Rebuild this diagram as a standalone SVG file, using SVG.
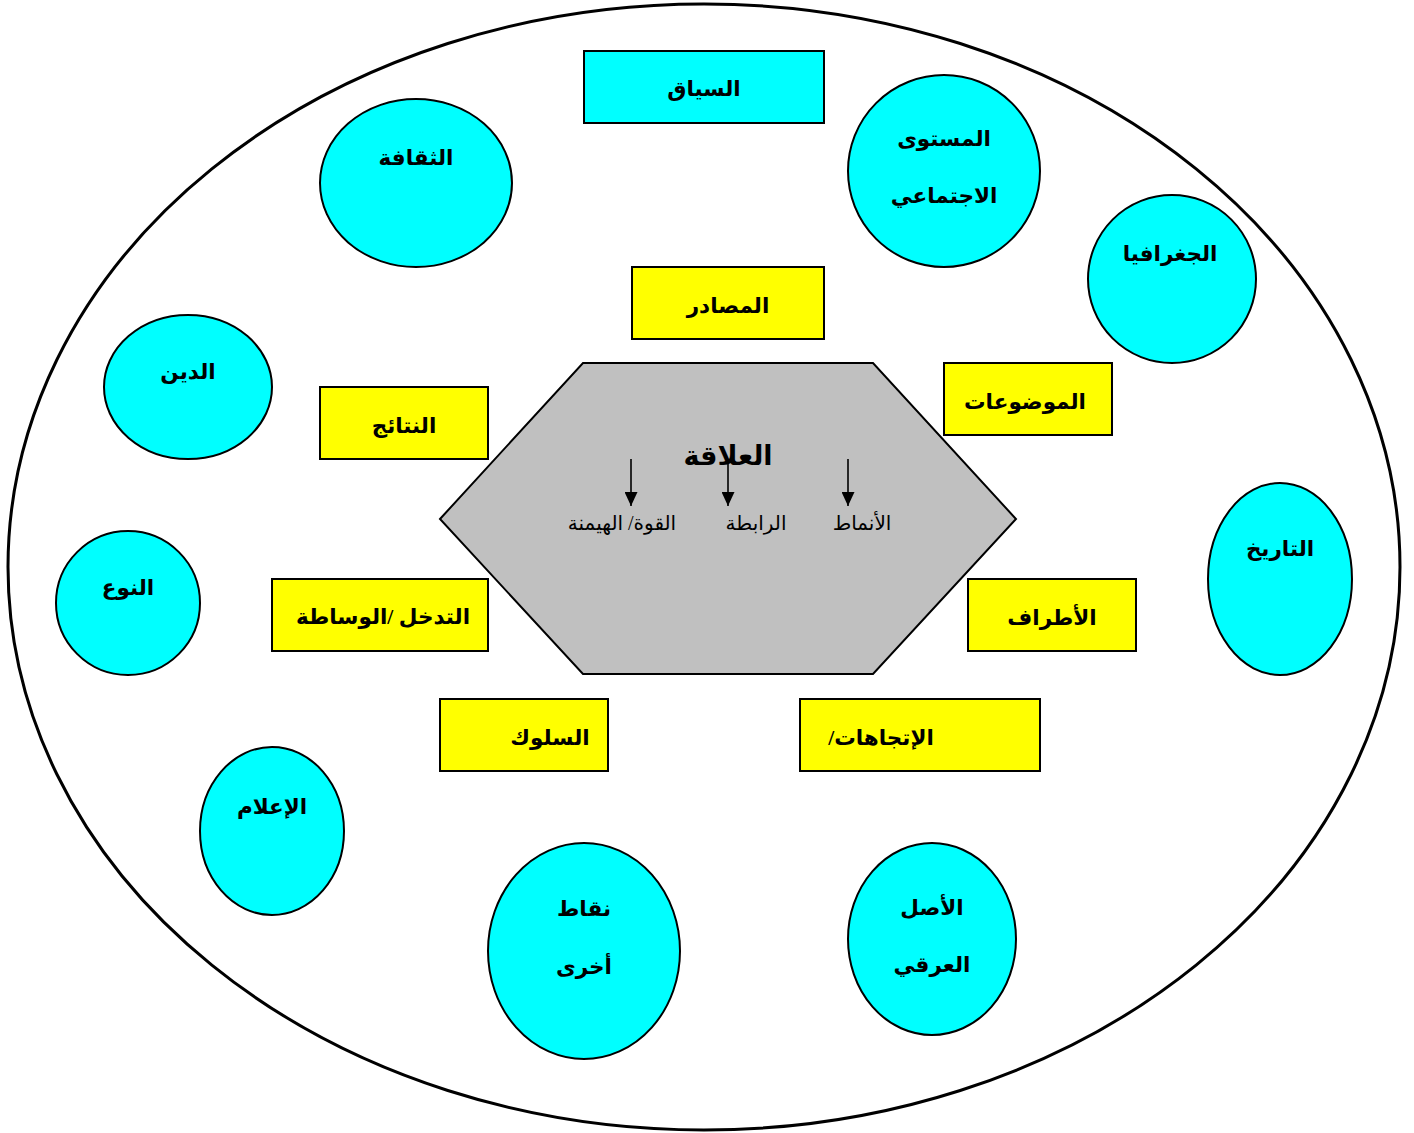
<svg xmlns="http://www.w3.org/2000/svg" width="1414" height="1133" viewBox="0 0 1414 1133">
<style>
text{font-family:"Liberation Serif","DejaVu Serif","DejaVu Sans",serif;fill:#000;direction:rtl;unicode-bidi:embed}
.b{font-weight:bold;font-size:21.5px;text-anchor:middle}
.t{font-size:20px;text-anchor:middle}
.cy{fill:#00ffff;stroke:#000;stroke-width:2}
.ye{fill:#ffff00;stroke:#000;stroke-width:2}
.ar{stroke:#000;stroke-width:1.6;fill:none;marker-end:url(#ah)}
</style>
<defs>
<marker id="ah" viewBox="0 0 14 13" refX="14" refY="6.5" markerWidth="14" markerHeight="13" markerUnits="userSpaceOnUse" orient="auto"><path d="M0,0L14,6.5L0,13z" fill="#000"/></marker>
</defs>
<rect width="1414" height="1133" fill="#fff"/>
<ellipse id="outer" cx="704" cy="567" rx="696" ry="563" fill="#fff" stroke="#000" stroke-width="3"/>
<g id="hex"><polygon points="440,519 583,363 873,363 1016,519 873,674 583,674" fill="#c0c0c0" stroke="#000" stroke-width="2"/>
<text class="b" x="728" y="465" style="font-size:27px">العلاقة</text>
<text class="t" x="862" y="530">الأنماط</text>
<text class="t" x="756" y="530">الرابطة</text>
<text class="t" x="622" y="530">القوة/ الهيمنة</text></g>
<g id="connectors">
<line class="ar" x1="631" y1="459" x2="631" y2="506"/>
<line class="ar" x1="728" y1="459" x2="728" y2="506"/>
<line class="ar" x1="848" y1="459" x2="848" y2="506"/>
</g>
<g id="n-siyaq"><rect class="cy" x="584" y="51" width="240" height="72"/><text class="b" x="704" y="96">السياق</text></g>
<g id="n-masadir"><rect class="ye" x="632" y="267" width="192" height="72"/><text class="b" x="728" y="313">المصادر</text></g>
<g id="n-mawdooat"><rect class="ye" x="944" y="363" width="168" height="72"/><text class="b" x="1025" y="409">الموضوعات</text></g>
<g id="n-nataij"><rect class="ye" x="320" y="387" width="168" height="72"/><text class="b" x="404" y="433">النتائج</text></g>
<g id="n-tadakhul"><rect class="ye" x="272" y="579" width="216" height="72"/><text class="b" x="383" y="624">التدخل /الوساطة</text></g>
<g id="n-atraf"><rect class="ye" x="968" y="579" width="168" height="72"/><text class="b" x="1052" y="625">الأطراف</text></g>
<g id="n-suluk"><rect class="ye" x="440" y="699" width="168" height="72"/><text class="b" x="550" y="745">السلوك</text></g>
<g id="n-ittijahat"><rect class="ye" x="800" y="699" width="240" height="72"/><text class="b" x="881" y="745">الإتجاهات/</text></g>
<g id="n-thaqafa"><ellipse class="cy" cx="416" cy="183" rx="96" ry="84"/><text class="b" x="416" y="165">الثقافة</text></g>
<g id="n-mustawa"><ellipse class="cy" cx="944" cy="171" rx="96" ry="96"/><text class="b" x="944" y="146">المستوى</text><text class="b" x="944" y="203">الاجتماعي</text></g>
<g id="n-jughrafia"><ellipse class="cy" cx="1172" cy="279" rx="84" ry="84"/><text class="b" x="1170" y="261">الجغرافيا</text></g>
<g id="n-din"><ellipse class="cy" cx="188" cy="387" rx="84" ry="72"/><text class="b" x="188" y="379">الدين</text></g>
<g id="n-tarikh"><ellipse class="cy" cx="1280" cy="579" rx="72" ry="96"/><text class="b" x="1280" y="556">التاريخ</text></g>
<g id="n-naw"><ellipse class="cy" cx="128" cy="603" rx="72" ry="72"/><text class="b" x="128" y="595">النوع</text></g>
<g id="n-ilam"><ellipse class="cy" cx="272" cy="831" rx="72" ry="84"/><text class="b" x="272" y="814">الإعلام</text></g>
<g id="n-nuqat"><ellipse class="cy" cx="584" cy="951" rx="96" ry="108"/><text class="b" x="584" y="916">نقاط</text><text class="b" x="584" y="974">أخرى</text></g>
<g id="n-asl"><ellipse class="cy" cx="932" cy="939" rx="84" ry="96"/><text class="b" x="932" y="915">الأصل</text><text class="b" x="932" y="972">العرقي</text></g>
</svg>
